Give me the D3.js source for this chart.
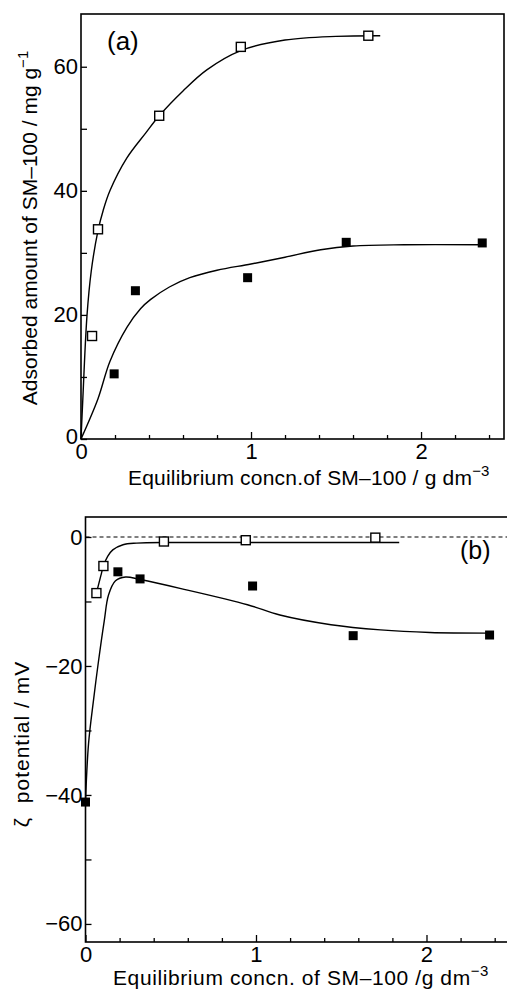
<!DOCTYPE html>
<html>
<head>
<meta charset="utf-8">
<script src="https://cdn.jsdelivr.net/npm/d3@7"></script>
<style>
  body { margin: 0; background: #fff; }
  svg { display: block; font-family: "Liberation Sans", Arial, sans-serif; }
</style>
</head>
<body>
<div id="chart"></div>
<script>
// (a) adsorbed amount vs equilibrium concentration
const aOpenX = [0.065, 0.10, 0.46, 0.94, 1.69];
const aOpenY = [16.6, 33.8, 52.1, 63.2, 65.0];
const aFillX = [0.195, 0.32, 0.98, 1.56, 2.36];
const aFillY = [10.5, 23.9, 26.0, 31.7, 31.6];
// fitted curves
const aOpenCurveX = [0, 0.01, 0.035, 0.06, 0.1, 0.13, 0.17, 0.27, 0.38, 0.46, 0.6, 0.74, 0.94, 1.2, 1.5, 1.76];
const aOpenCurveY = [0, 6, 19.8, 27, 33.6, 36.8, 40, 45.3, 49.3, 52.1, 56.1, 59.5, 62.6, 64.3, 64.9, 65.0];
const aFillCurveX = [0, 0.1, 0.17, 0.27, 0.35, 0.41, 0.52, 0.64, 0.8, 1.0, 1.2, 1.41, 1.6, 1.9, 2.36];
const aFillCurveY = [0, 6.5, 12.5, 18, 21, 22.5, 24.5, 26, 27.2, 28.2, 29.3, 30.5, 31.1, 31.3, 31.3];

// (b) zeta potential vs equilibrium concentration
const bOpenX = [0.064, 0.105, 0.46, 0.94, 1.70];
const bOpenY = [-8.7, -4.5, -0.7, -0.5, -0.1];
const bFillX = [0, 0.19, 0.32, 0.98, 1.57, 2.37];
const bFillY = [-41.1, -5.4, -6.5, -7.6, -15.3, -15.2];
const bOpenCurveX = [0.064, 0.09, 0.105, 0.13, 0.16, 0.22, 0.3, 0.5, 1.0, 1.84];
const bOpenCurveY = [-8.7, -6, -4.5, -3, -2, -1.2, -0.95, -0.85, -0.85, -0.85];
const bFillCurveX = [0, 0.018, 0.047, 0.075, 0.11, 0.135, 0.176, 0.235, 0.32, 0.56, 0.95, 1.14, 1.44, 1.73, 2.02, 2.36];
const bFillCurveY = [-41, -32, -25.3, -19.5, -13, -9, -6.8, -6.2, -6.6, -8.0, -10.5, -12.1, -13.6, -14.4, -14.8, -14.9];

const xMajor = [0, 1, 2];
const xMinor = [0.2, 0.4, 0.6, 0.8, 1.2, 1.4, 1.6, 1.8, 2.2, 2.4];
const aYMajor = [0, 20, 40, 60];
const aYMinor = [10, 30, 50];
const bYMajor = [0, -20, -40, -60];
const bYMinor = [-10, -30, -50];

const W = 507, H = 989;
const svg = d3.select('#chart').append('svg')
  .attr('width', W)
  .attr('height', H);

function zip(xs, ys) {
  return xs.map((x, i) => ({ x: x, y: ys[i] }));
}

function panel(opt) {
  const x = d3.scaleLinear().domain(opt.xDomain).range([opt.left, opt.right]);
  const y = d3.scaleLinear().domain(opt.yDomain).range([opt.bottom, opt.top]);
  const g = svg.append('g');

  // ticks point inward
  g.append('g')
    .attr('transform', `translate(0,${opt.bottom})`)
    .call(d3.axisBottom(x).tickValues(xMinor).tickSize(-4).tickFormat(''))
    .call(s => s.select('.domain').remove());
  g.append('g')
    .attr('transform', `translate(0,${opt.bottom})`)
    .call(d3.axisBottom(x).tickValues(xMajor).tickSize(-7).tickPadding(opt.xPad).tickFormat(d3.format('d')))
    .call(s => s.select('.domain').remove());
  const yAx = g.append('g')
    .attr('transform', `translate(${opt.left},0)`)
    .call(d3.axisLeft(y).tickValues(opt.yMajor).tickSize(-6).tickPadding(3)
      .tickFormat(d => d < 0 ? '\u2212' + Math.abs(d) : d))
    .call(s => s.select('.domain').remove());
  g.append('g')
    .attr('transform', `translate(${opt.left},0)`)
    .call(d3.axisLeft(y).tickValues(opt.yMinor).tickSize(-6).tickFormat(''))
    .call(s => s.select('.domain').remove());

  // lift the bottom "0" a little so it clears the x-axis "0"
  if (opt.liftZero) {
    yAx.selectAll('.tick').filter(d => d === 0).select('text').attr('y', -3);
  }

  g.selectAll('.tick line').attr('stroke', '#000').attr('stroke-width', 1.3);
  g.selectAll('.tick text').attr('fill', '#000').style('font-size', '22px')
    .style('font-family', '"Liberation Sans", Arial, sans-serif');

  // frame
  g.append('rect')
    .attr('x', opt.left).attr('y', opt.top)
    .attr('width', opt.right - opt.left).attr('height', opt.bottom - opt.top)
    .attr('fill', 'none').attr('stroke', '#000').attr('stroke-width', 1.6);

  if (opt.zeroLine) {
    g.append('line')
      .attr('x1', x(0)).attr('x2', opt.right)
      .attr('y1', y(0)).attr('y2', y(0))
      .attr('stroke', '#000').attr('stroke-width', 1.2)
      .attr('stroke-dasharray', '4,3');
  }

  const line = d3.line()
    .x(d => x(d.x))
    .y(d => y(d.y))
    .curve(d3.curveCatmullRom.alpha(0.5));

  opt.curves.forEach(c => {
    g.append('path')
      .datum(c)
      .attr('fill', 'none')
      .attr('stroke', '#000')
      .attr('stroke-width', 1.4)
      .attr('d', line);
  });

  const s = 9;
  g.selectAll('.open')
    .data(opt.open)
    .enter().append('rect')
    .attr('x', d => x(d.x) - s / 2)
    .attr('y', d => y(d.y) - s / 2)
    .attr('width', s).attr('height', s)
    .attr('fill', '#fff').attr('stroke', '#000').attr('stroke-width', 1.4);
  g.selectAll('.fill')
    .data(opt.fill)
    .enter().append('rect')
    .attr('x', d => x(d.x) - s / 2)
    .attr('y', d => y(d.y) - s / 2)
    .attr('width', s).attr('height', s)
    .attr('fill', '#000');

  return g;
}

const ga = panel({
  left: 81, right: 504, top: 14, bottom: 439,
  xDomain: [0, 2.488], yDomain: [0, 68.5],
  yMajor: aYMajor, yMinor: aYMinor, xPad: 4, liftZero: true,
  curves: [zip(aOpenCurveX, aOpenCurveY), zip(aFillCurveX, aFillCurveY)],
  open: zip(aOpenX, aOpenY),
  fill: zip(aFillX, aFillY)
});

// right border of (b) falls just outside the picture
const gb = panel({
  left: 85.5, right: 508.5, top: 517, bottom: 942,
  xDomain: [0, 2.481], yDomain: [-62.8, 3.1],
  yMajor: bYMajor, yMinor: bYMinor, xPad: 4,
  zeroLine: true,
  curves: [zip(bOpenCurveX, bOpenCurveY), zip(bFillCurveX, bFillCurveY)],
  open: zip(bOpenX, bOpenY),
  fill: zip(bFillX, bFillY)
});

// panel letters
svg.append('text').attr('x', 107).attr('y', 50)
  .style('font-size', '26px').text('(a)');
svg.append('text').attr('x', 460).attr('y', 559)
  .style('font-size', '25px').text('(b)');

// axis titles
function labelWithSup(parent, main, sup) {
  parent.append('tspan').text(main);
  parent.append('tspan').attr('dy', -9).style('font-size', '15px').text(sup);
}

const xa = svg.append('text').attr('x', 128).attr('y', 485).style('font-size', '21px')
  .style('letter-spacing', '0.2px');
labelWithSup(xa, 'Equilibrium concn.of SM\u2013100 / g dm', '\u22123');

const xb = svg.append('text').attr('x', 113).attr('y', 985).style('font-size', '21px')
  .style('letter-spacing', '0.6px');
labelWithSup(xb, 'Equilibrium concn. of SM\u2013100 /g dm', '\u22123');

const ya = svg.append('text')
  .attr('transform', 'translate(37,228) rotate(-90)')
  .attr('text-anchor', 'middle')
  .style('font-size', '21px');
labelWithSup(ya, 'Adsorbed amount of SM\u2013100 / mg g', '\u22121');

svg.append('text')
  .attr('transform', 'translate(29,744) rotate(-90)')
  .attr('text-anchor', 'middle')
  .style('font-size', '21px')
  .style('letter-spacing', '1px')
  .text('\u03b6\u00a0\u00a0potential / mV');
</script>
</body>
</html>
